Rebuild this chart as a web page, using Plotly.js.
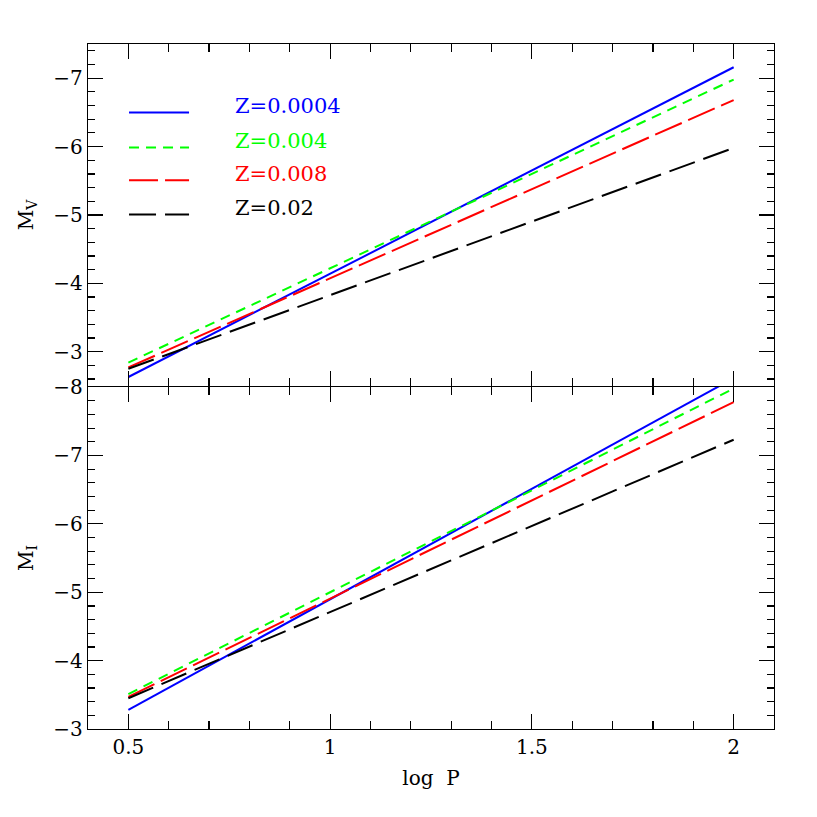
<!DOCTYPE html>
<html>
<head>
<meta charset="utf-8">
<script src="https://cdn.plot.ly/plotly-3.0.1.min.js"></script>
<style>html,body{margin:0;padding:0;background:#fff;}#chart{width:817px;height:817px;}</style>
</head>
<body>
<div id="chart"></div>
<script>
// ---- data ----
const logP = [0.5, 2.0];
const seriesNames = ['Z=0.0004', 'Z=0.004', 'Z=0.008', 'Z=0.02'];
const seriesColors = ['#0000ff', '#00ff00', '#ff0000', '#000000'];
const seriesDashes = ['solid', '10px,7px', '29px,7px', '27px,9px'];
// M_V (top panel)
const MV_Z0004 = [-2.63, -7.16];
const MV_Z004  = [-2.84, -6.98];
const MV_Z008  = [-2.77, -6.68];
const MV_Z02   = [-2.75, -5.98];
// M_I (bottom panel)
const MI_Z0004 = [-3.28, -8.13];
const MI_Z004  = [-3.51, -7.98];
const MI_Z008  = [-3.47, -7.78];
const MI_Z02   = [-3.45, -7.23];
const xTickVals = [0.5, 1, 1.5, 2];
const xTickText = ['0.5', '1', '1.5', '2'];

const MV = [MV_Z0004, MV_Z004, MV_Z008, MV_Z02];
const MI = [MI_Z0004, MI_Z004, MI_Z008, MI_Z02];

const FONT = 'DejaVu Serif, Liberation Serif, serif';
const traces = [];
for (let i = 0; i < seriesNames.length; i++) {
  traces.push({x: logP, y: MV[i], xaxis: 'x2', yaxis: 'y2', mode: 'lines', name: seriesNames[i],
    showlegend: false, line: {color: seriesColors[i], width: 2, dash: seriesDashes[i]}});
  traces.push({x: logP, y: MI[i], xaxis: 'x', yaxis: 'y', mode: 'lines', name: seriesNames[i],
    showlegend: false, line: {color: seriesColors[i], width: 2, dash: seriesDashes[i]}});
}

// legend (drawn as key samples + labels)
const legY = [0.900, 0.849, 0.801, 0.751];
const shapes = [], annotations = [];
for (let i = 0; i < seriesNames.length; i++) {
  shapes.push({type: 'line', xref: 'paper', yref: 'paper', x0: 0.0598, x1: 0.1473, y0: legY[i], y1: legY[i],
    line: {color: seriesColors[i], width: 2, dash: seriesDashes[i]}});
  annotations.push({xref: 'paper', yref: 'paper', x: 0.2115, y: legY[i] + 0.0095, xanchor: 'left', yanchor: 'middle',
    text: seriesNames[i], showarrow: false, font: {family: FONT, size: 21, color: seriesColors[i]}});
}

const LW = 1.2;
const common = {
  showline: true, linecolor: '#000', linewidth: LW, mirror: 'ticks',
  ticks: 'inside', ticklen: 15, tickwidth: 1.2, tickcolor: '#000',
  showgrid: false, zeroline: false,
  tickfont: {family: FONT, size: 20, color: '#000'}
};
const gap = LW / 685 / 2;

const layout = {
  width: 817, height: 817,
  margin: {l: 88, r: 43, t: 44, b: 88},
  paper_bgcolor: '#fff', plot_bgcolor: '#fff',
  showlegend: false,
  xaxis: Object.assign({}, common, {
    domain: [0, 1], range: [0.4, 2.1], anchor: 'y',
    tickmode: 'array', tickvals: xTickVals, ticktext: xTickText,
    minor: {dtick: 0.1, tick0: 0, ticks: 'inside', ticklen: 8, tickwidth: 1.2, tickcolor: '#000'},
    title: {text: 'log  P', font: {family: FONT, size: 20, color: '#000'}, standoff: 12}
  }),
  xaxis2: Object.assign({}, common, {
    domain: [0, 1], range: [0.4, 2.1], anchor: 'y2', matches: 'x', showticklabels: false,
    tickmode: 'array', tickvals: xTickVals,
    minor: {dtick: 0.1, tick0: 0, ticks: 'inside', ticklen: 8, tickwidth: 1.2, tickcolor: '#000'}
  }),
  yaxis: Object.assign({}, common, {
    domain: [0, 0.5 - gap], range: [-3, -8], anchor: 'x', dtick: 1, tick0: 0,
    minor: {dtick: 0.2, tick0: 0, ticks: 'inside', ticklen: 7, tickwidth: 1.2, tickcolor: '#000'},
    title: {text: 'M<sub>I</sub>', font: {family: FONT, size: 20, color: '#000'}, standoff: 14}
  }),
  yaxis2: Object.assign({}, common, {
    domain: [0.5 + gap, 1], range: [-2.5, -7.5], anchor: 'x2', dtick: 1, tick0: 0,
    minor: {dtick: 0.2, tick0: 0, ticks: 'inside', ticklen: 7, tickwidth: 1.2, tickcolor: '#000'},
    title: {text: 'M<sub>V</sub>', font: {family: FONT, size: 20, color: '#000'}, standoff: 14}
  }),
  shapes: shapes,
  annotations: annotations
};

Plotly.newPlot('chart', traces, layout, {displayModeBar: false, staticPlot: true});
</script>
</body>
</html>
